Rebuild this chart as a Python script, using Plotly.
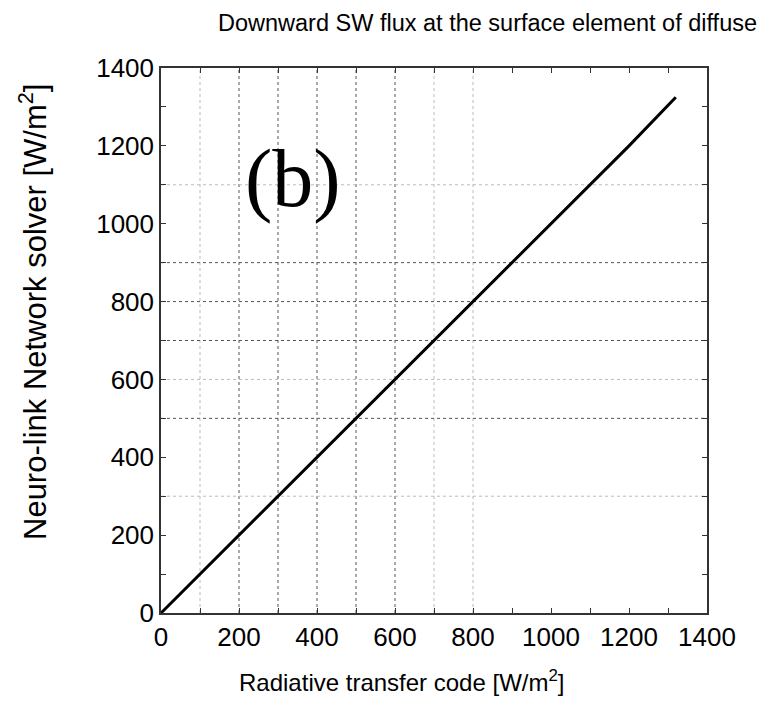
import plotly.graph_objects as go

# data
rt_code = [0, 100, 200, 300, 400, 500, 600, 700, 800, 900, 1000, 1100, 1200, 1320]
nn_solver = [0, 100, 199, 300, 400, 499, 600, 701, 800, 900, 1001, 1101, 1200, 1325]

tick_vals = [0, 200, 400, 600, 800, 1000, 1200, 1400]
tick_text = ["0", "200", "400", "600", "800", "1000", "1200", "1400"]

vgrid_dark = [200, 300, 400, 500, 600]
vgrid_faint = [100, 700, 800]
hgrid_dark = [500, 700, 800, 900]
hgrid_faint = [300, 600, 1100]

title_text = "Downward SW flux at the surface element of diffuse"
x_title = "Radiative transfer code [W/m<sup>2</sup>]"
y_title = "Neuro-link Network solver [W/m<sup>2</sup>]"
panel_label = "(b)"

FONT = "Liberation Sans, Arial, sans-serif"

fig = go.Figure()
fig.add_trace(go.Scatter(x=rt_code, y=nn_solver, mode="lines",
                         line=dict(color="black", width=3), showlegend=False,
                         hoverinfo="skip"))

shapes = []
for v in vgrid_dark:
    shapes.append(dict(type="line", xref="x", yref="paper", x0=v, x1=v, y0=0, y1=1,
                       line=dict(color="#555", width=1, dash="dot"), layer="below"))
for v in vgrid_faint:
    shapes.append(dict(type="line", xref="x", yref="paper", x0=v, x1=v, y0=0, y1=1,
                       line=dict(color="#bbb", width=1, dash="dot"), layer="below"))
for v in hgrid_dark:
    shapes.append(dict(type="line", xref="paper", yref="y", x0=0, x1=1, y0=v, y1=v,
                       line=dict(color="#555", width=1, dash="dot"), layer="below"))
for v in hgrid_faint:
    shapes.append(dict(type="line", xref="paper", yref="y", x0=0, x1=1, y0=v, y1=v,
                       line=dict(color="#bbb", width=1, dash="dot"), layer="below"))

axis_common = dict(
    range=[0, 1400], tickvals=tick_vals, ticktext=tick_text,
    ticks="inside", ticklen=5, tickwidth=1, tickcolor="#333",
    showline=True, linecolor="#333", linewidth=1.5, mirror="ticks",
    showgrid=False, zeroline=False,
    tickfont=dict(family=FONT, size=26, color="black"),
    minor=dict(dtick=100, tick0=0, ticks="inside", ticklen=5, tickcolor="#333", showgrid=False),
)

fig.update_layout(
    width=765, height=702,
    margin=dict(l=161, r=58, t=68, b=89),
    paper_bgcolor="white", plot_bgcolor="white",
    shapes=shapes,
    xaxis=dict(**axis_common),
    yaxis=dict(**axis_common),
    annotations=[
        dict(text=title_text, xref="paper", yref="paper", x=(487 - 161) / 546, y=1, yshift=45,
             xanchor="center", yanchor="middle", showarrow=False,
             font=dict(family=FONT, size=23.5, color="black")),
        dict(text=x_title, xref="paper", yref="paper", x=(401 - 161) / 546, y=0, yshift=-68,
             xanchor="center", yanchor="middle", showarrow=False,
             font=dict(family=FONT, size=24, color="black")),
        dict(text=y_title, xref="paper", yref="paper", x=(33 - 161) / 546, y=(613 - 312) / 545,
             xanchor="center", yanchor="middle", textangle=-90, showarrow=False,
             font=dict(family=FONT, size=31, color="black")),
        dict(text=panel_label, xref="x", yref="y", x=338, y=1115,
             xanchor="center", yanchor="middle", showarrow=False,
             font=dict(family="Liberation Serif, Times New Roman, serif", size=82, color="black")),
    ],
)

fig.write_html("out.html")
